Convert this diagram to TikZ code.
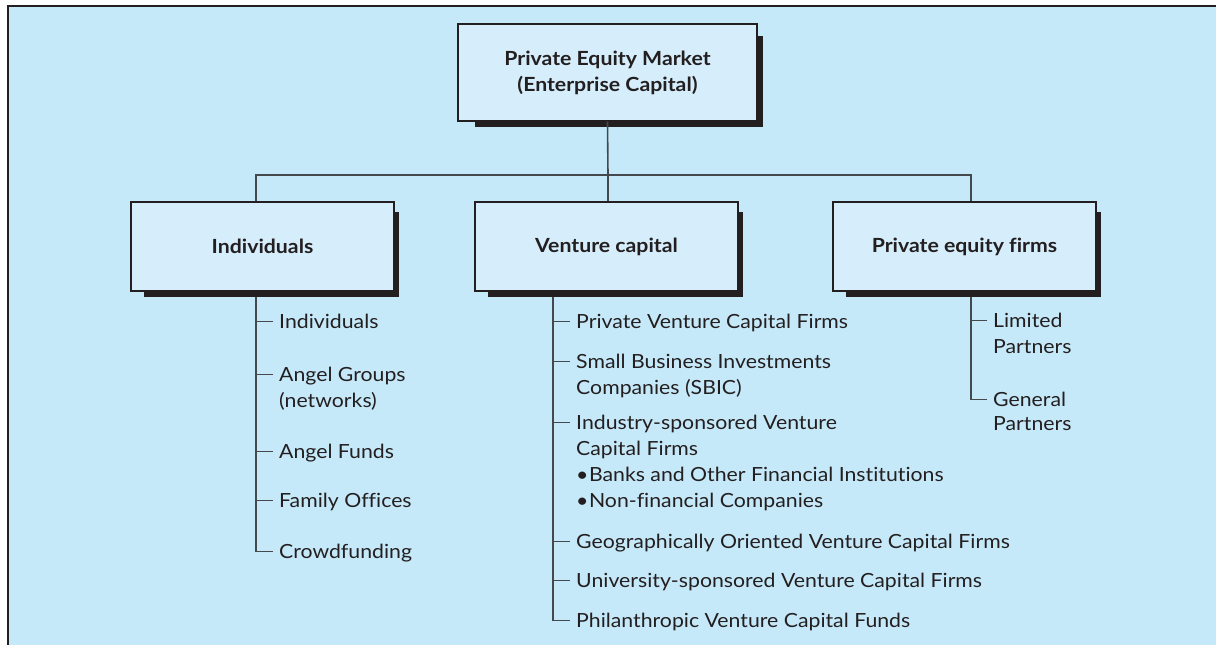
\documentclass[tikz,border=0pt]{standalone}
\usepackage{fontspec}
\setmainfont{Lato}[FakeStretch=1.09, Ligatures={NoCommon}]
\usetikzlibrary{calc}
\definecolor{panelc}{HTML}{C6E9F9}
\definecolor{boxc}{HTML}{D6EEFB}
\definecolor{ink}{HTML}{231F20}
\definecolor{linec}{HTML}{45494D}
\tikzset{
  box/.style={draw=ink, line width=1.4pt, fill=boxc, inner sep=0pt, font=\fontsize{19.5}{26}\selectfont\bfseries, text=ink, align=center},
  conn/.style={draw=linec, line width=1.6pt},
  item/.style={anchor=base west, inner xsep=6pt, inner ysep=0pt, text height=13pt, text depth=0pt, font=\fontsize{19.5}{26}\selectfont, text=ink},
  sub/.style={anchor=base west, inner sep=0pt, font=\fontsize{19.5}{26}\selectfont, text=ink},
  shade/.style={fill=ink}
}
\begin{document}
\begin{tikzpicture}[x=1pt,y=-1pt]
\useasboundingbox (0,0) rectangle (1216,645);
\fill[white] (0,0) rectangle (1216,645);
\fill[panelc] (8,6) rectangle (1216,645);
\draw[ink, line width=2pt] (8,645) -- (8,6) -- (1216,6);

% shadows
\fill[shade] (475,36) rectangle (763,127);
\fill[shade] (144,212) rectangle (399,297);
\fill[shade] (488,212) rectangle (743,297);
\fill[shade] (846,212) rectangle (1101,297);

% boxes
\node[box, minimum width=299pt, minimum height=97pt] (top) at (607.5,72.5) {Private Equity Market\\(Enterprise Capital)};
\node[box, minimum width=263pt, minimum height=89pt] (ind) at (262.5,246.5) {Individuals};
\node[box, minimum width=263pt, minimum height=89pt] (vc) at (606.5,246.5) {Venture capital};
\node[box, minimum width=263pt, minimum height=89pt] (pe) at (964.5,246.5) {Private equity firms};

% branch coordinates
\coordinate (bus) at (608,175);
\coordinate (ib) at (256,297);
\coordinate (vb) at (553,297);
\coordinate (pb) at (971,297);

% bus
\draw[conn] (top.south) -- (bus);
\draw[conn] (ind.north -| ib) |- (bus) -| (pe.north -| pb);
\draw[conn] (bus) -- (vc.north -| bus);

% Individuals list
\node[item] (i1) at (273,328) {Individuals};
\node[item] (i2) at (273,381) {Angel Groups};
\node[sub] (i2b) at (279,407) {(networks)};
\node[item] (i3) at (273,458) {Angel Funds};
\node[item] (i4) at (273,507) {Family Offices};
\node[item] (i5) at (273,558) {Crowdfunding};
\draw[conn] (ib) |- (i5.west);
\foreach \n in {i1,i2,i3,i4} \draw[conn] (\n.west -| ib) -- (\n.west);

% Venture capital list
\node[item] (v1) at (570,328) {Private Venture Capital Firms};
\node[item] (v2) at (570,368) {Small Business Investments};
\node[sub] (v2b) at (576,394) {Companies (SBIC)};
\node[item] (v3) at (570,429) {Industry-sponsored Venture};
\node[sub] (v3b) at (576,455) {Capital Firms};
\node[sub] (v3c) at (576,481) {\textbullet\hspace{0.5pt}Banks and Other Financial Institutions};
\node[sub] (v3d) at (576,507) {\textbullet\hspace{0.5pt}Non-financial Companies};
\node[item] (v4) at (570,548) {Geographically Oriented Venture Capital Firms};
\node[item] (v5) at (570,587) {University-sponsored Venture Capital Firms};
\node[item] (v6) at (570,627) {Philanthropic Venture Capital Funds};
\draw[conn] (vb) |- (v6.west);
\foreach \n in {v1,v2,v3,v4,v5} \draw[conn] (\n.west -| vb) -- (\n.west);

% Private equity list
\node[item] (p1) at (987,327) {Limited};
\node[sub] (p1b) at (993,353) {Partners};
\node[item] (p2) at (987,406) {General};
\node[sub] (p2b) at (993,430) {Partners};
\draw[conn] (pb) |- (p2.west);
\draw[conn] (p1.west -| pb) -- (p1.west);
\end{tikzpicture}
\end{document}
